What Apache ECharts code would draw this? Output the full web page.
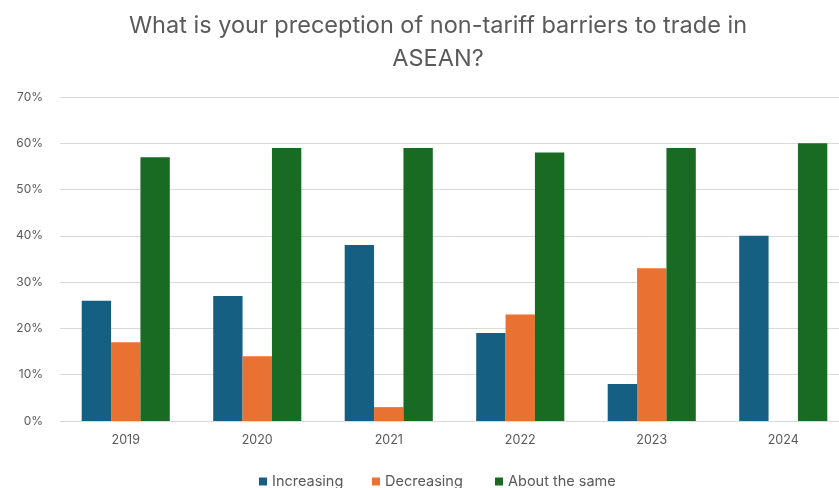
<!DOCTYPE html>
<html><head><meta charset="utf-8">
<script src="https://cdn.jsdelivr.net/npm/echarts@6/dist/echarts.min.js"></script>
<style>html,body{margin:0;padding:0;background:#fff}#c{width:839px;height:488px}</style>
</head><body><div id="c"></div>
<script>
const categories = ['2019', '2020', '2021', '2022', '2023', '2024'];
const increasing = [26, 27, 38, 19, 8, 40];
const decreasing = [17, 14, 3, 23, 33, 0];
const aboutSame = [57, 59, 59, 58, 59, 60];
const seriesNames = ['Increasing', 'Decreasing', 'About the same'];
const colors = ['#156082', '#E97132', '#196B24'];
const titleLines = ['What is your preception of non-tariff barriers to trade in', 'ASEAN?'];

const chart = echarts.init(document.getElementById('c'));
const font = 'Inter, "Noto Sans", sans-serif';
const legendLefts = [254, 367, 490];
chart.setOption({
  animation: false,
  title: {
    text: titleLines.join('\n'),
    left: 433, top: 4, textAlign: 'center',
    textStyle: { color: '#5a5a5a', fontSize: 23.5, fontWeight: 'normal', fontFamily: font, lineHeight: 33 }
  },
  legend: seriesNames.map((n, i) => ({
    data: [n], left: legendLefts[i], top: 469, icon: 'rect', itemWidth: 8, itemHeight: 8, itemGap: 8,
    textStyle: { color: '#595959', fontSize: 14.5, fontFamily: font }
  })),
  grid: { left: 60, right: -10, top: 97, bottom: 67, containLabel: false, outerBoundsMode: 'none' },
  xAxis: {
    type: 'category', data: categories,
    axisLine: { lineStyle: { color: '#d9d9d9' } }, axisTick: { show: false },
    axisLabel: { color: '#595959', fontSize: 12.5, fontFamily: font, margin: 13 }
  },
  yAxis: {
    type: 'value', min: 0, max: 70, interval: 10,
    axisLabel: { formatter: '{value}%', color: '#595959', fontSize: 12, fontFamily: font, margin: 17 },
    splitLine: { lineStyle: { color: '#d9d9d9', width: 1 } }
  },
  series: [increasing, decreasing, aboutSame].map((d, i) => ({
    name: seriesNames[i], type: 'bar', data: d, barGap: '0%', barCategoryGap: '33%',
    itemStyle: { color: colors[i] }
  }))
});
</script></body></html>
